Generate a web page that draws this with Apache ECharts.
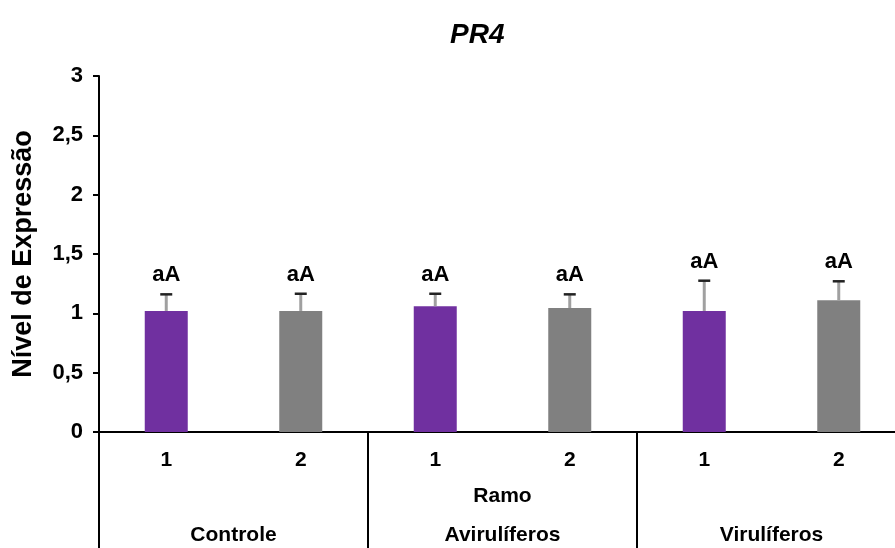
<!DOCTYPE html>
<html>
<head>
<meta charset="utf-8">
<script src="https://cdn.jsdelivr.net/npm/echarts@6/dist/echarts.min.js"></script>
<style>
  html, body { margin: 0; padding: 0; background: #fff; }
  #chart { width: 895px; height: 548px; }
</style>
</head>
<body>
<div id="chart"></div>
<script>
// PR4 relative expression in branches (Ramo), by treatment group
const categories = ['1', '2', '1', '2', '1', '2'];
const groups = ['Controle', 'Avirulíferos', 'Virulíferos'];
const means = [1.02, 1.02, 1.06, 1.045, 1.02, 1.11];
const errors = [0.14, 0.145, 0.105, 0.115, 0.255, 0.16];
const letters = ['aA', 'aA', 'aA', 'aA', 'aA', 'aA'];
const barColors = ['#7030A0', '#808080', '#7030A0', '#808080', '#7030A0', '#808080'];
const yTicks = [0, 0.5, 1, 1.5, 2, 2.5, 3];

const FONT = '"Liberation Sans", Arial, sans-serif';

const chart = echarts.init(document.getElementById('chart'), null, { renderer: 'canvas' });

const errData = means.map((m, i) => [i, m, m + errors[i], letters[i]]);

chart.setOption({
  animation: false,
  backgroundColor: '#fff',
  title: {
    text: 'PR4',
    left: 445,
    top: 16,
    textStyle: { fontFamily: FONT, fontSize: 28, fontWeight: 'bold', fontStyle: 'italic', color: '#000' }
  },
  grid: { left: 99, right: -11, top: 76, bottom: 116, containLabel: false, outerBoundsMode: 'none' },
  xAxis: [
    {
      type: 'category',
      data: categories,
      position: 'bottom',
      axisLine: { lineStyle: { color: '#000', width: 2 } },
      axisTick: { show: false },
      axisLabel: { color: '#000', fontFamily: FONT, fontSize: 21, fontWeight: 'bold', margin: 18 }
    },
    {
      type: 'category',
      data: groups,
      position: 'bottom',
      axisLine: { show: false },
      axisTick: { show: true, length: 120, alignWithLabel: false, lineStyle: { color: '#000', width: 2 } },
      axisLabel: { color: '#000', fontFamily: FONT, fontSize: 21, fontWeight: 'bold', margin: 93 },
      name: 'Ramo',
      nameLocation: 'middle',
      nameGap: 54,
      nameMoveOverlap: false,
      nameTextStyle: { color: '#000', fontFamily: FONT, fontSize: 21, fontWeight: 'bold' }
    }
  ],
  yAxis: {
    type: 'value',
    min: yTicks[0],
    max: yTicks[yTicks.length - 1],
    interval: 0.5,
    splitLine: { show: false },
    axisLine: { show: true, lineStyle: { color: '#000', width: 2 } },
    axisTick: { show: true, length: 6, lineStyle: { color: '#000', width: 2 } },
    axisLabel: {
      color: '#000', fontFamily: FONT, fontSize: 22, fontWeight: 'bold', margin: 16,
      formatter: v => String(v).replace('.', ',')
    },
    name: 'Nível de Expressão',
    nameLocation: 'middle',
    nameRotate: 90,
    nameGap: 62,
    nameMoveOverlap: false,
    nameTextStyle: { color: '#000', fontFamily: FONT, fontSize: 27, fontWeight: 'bold' }
  },
  series: [
    {
      type: 'bar',
      xAxisIndex: 0,
      barWidth: 43,
      data: means.map((v, i) => ({ value: v, itemStyle: { color: barColors[i] } }))
    },
    {
      // upper error bars with significance letters
      type: 'custom',
      xAxisIndex: 0,
      z: 5,
      data: errData,
      renderItem: (params, api) => {
        const x = api.coord([api.value(0), api.value(1)])[0];
        const yMean = api.coord([api.value(0), api.value(1)])[1];
        const yTop = api.coord([api.value(0), api.value(2)])[1];
        const half = 6;
        return {
          type: 'group',
          children: [
            { type: 'line', shape: { x1: x, y1: yMean, x2: x, y2: yTop }, style: { stroke: '#a0a0a0', lineWidth: 3 } },
            { type: 'line', shape: { x1: x - half, y1: yTop, x2: x + half, y2: yTop }, style: { stroke: '#222', lineWidth: 2.5 } },
            {
              type: 'text',
              style: {
                text: api.value(3), x: x, y: yTop - 8,
                textAlign: 'center', textVerticalAlign: 'bottom',
                font: 'bold 22px ' + FONT, fill: '#000'
              }
            }
          ]
        };
      }
    }
  ]
});
</script>
</body>
</html>
